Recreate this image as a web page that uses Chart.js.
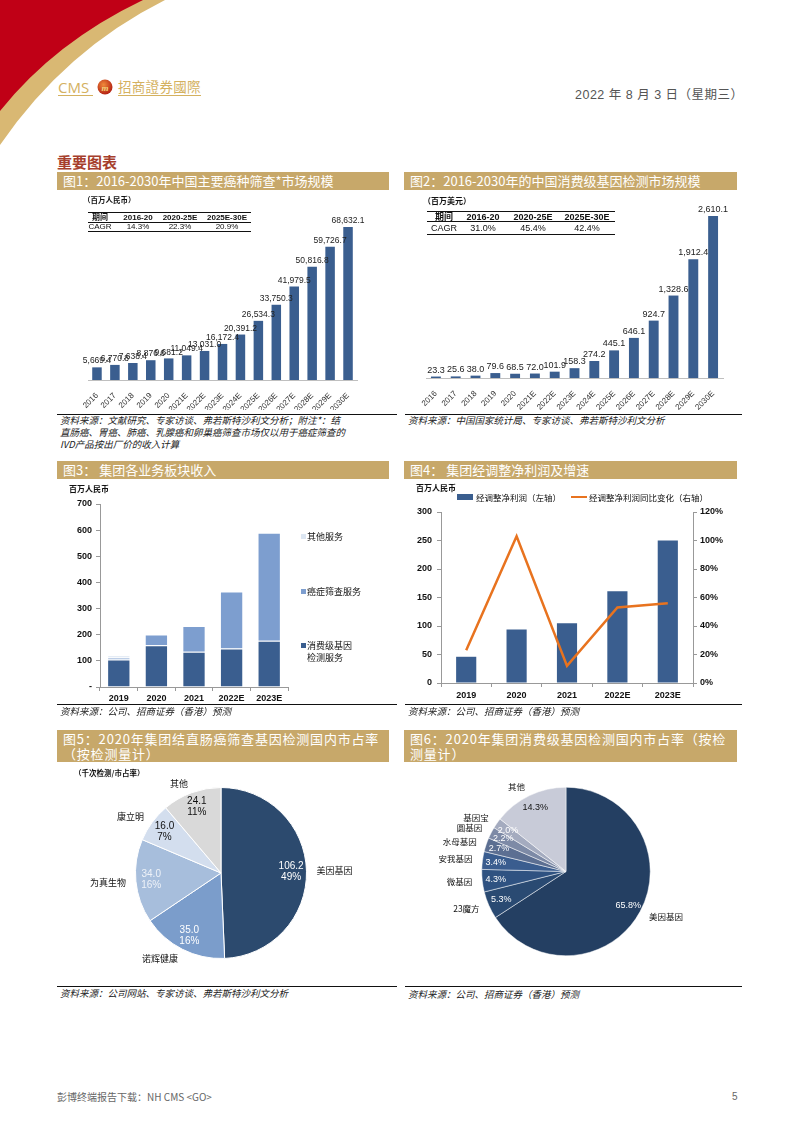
<!DOCTYPE html>
<html><head><meta charset="utf-8">
<script src="https://cdn.jsdelivr.net/npm/chart.js@4.4.0/dist/chart.umd.min.js"></script>
<style>
body{margin:0;background:#fff;}
#page{position:relative;width:794px;height:1122px;overflow:hidden;font-family:"Noto Sans CJK SC","Liberation Sans",Arial,sans-serif;color:#111;}
.abs{position:absolute;white-space:nowrap;line-height:1;}
.hdr{position:absolute;background:#c7a86a;color:#fff;font-size:13px;line-height:18px;padding-left:6px;box-sizing:border-box;white-space:nowrap;}
.rule{position:absolute;height:0;border-top:1px solid #111;}
.src{font-size:9.5px;font-style:italic;color:#222;}
canvas{position:absolute;}
</style></head>
<body><div id="page">
<svg width="794" height="170" style="position:absolute;left:0;top:0">
  <path d="M0,0 L165,0 Q65,50 0,145 Z" fill="#d9b873"/>
  <path d="M0,0 L143,0 Q55,42 0,111 Z" fill="#c00016"/>
  <defs><radialGradient id="g" cx="40%" cy="35%" r="70%"><stop offset="0" stop-color="#f08a3a"/><stop offset="1" stop-color="#b01a10"/></radialGradient></defs>
  <circle cx="105" cy="87" r="7.5" fill="url(#g)"/>
  <text x="105" y="90.5" font-size="9" font-style="italic" font-weight="bold" fill="#f3d27a" text-anchor="middle" font-family="Liberation Serif">m</text>
  <line x1="58" y1="95.5" x2="93" y2="95.5" stroke="#d4b15f" stroke-width="1"/>
  <line x1="118" y1="95.5" x2="201" y2="95.5" stroke="#d4b15f" stroke-width="1"/>
</svg>
<canvas id="c1" width="338" height="215" style="left:57px;top:195px"></canvas>
<canvas id="c2" width="335" height="215" style="left:405px;top:195px"></canvas>
<canvas id="c3" width="338" height="222" style="left:57px;top:483px"></canvas>
<canvas id="c4" width="335" height="205" style="left:405px;top:500px"></canvas>
<canvas id="c5" width="338" height="220" style="left:57px;top:765px"></canvas>
<canvas id="c6" width="335" height="220" style="left:405px;top:765px"></canvas>
</div>
<script>
// ---------- data ----------
const years = ['2016','2017','2018','2019','2020','2021E','2022E','2023E','2024E','2025E','2026E','2027E','2028E','2029E','2030E'];
const screeningMarket = [5669.4,6770.8,7638.4,8876.6,9681.2,11049.4,13031.0,16172.4,20391.2,26534.3,33750.3,41979.5,50816.8,59726.7,68632.1];
const consumerGeneMarket = [23.3,25.6,38.0,79.6,68.5,72.0,101.9,158.3,274.2,445.1,646.1,924.7,1328.6,1912.4,2610.1];
const cagrHeader = ['期间','2016-20','2020-25E','2025E-30E'];
const cagrScreening = ['CAGR','14.3%','22.3%','20.9%'];
const cagrConsumer = ['CAGR','31.0%','45.4%','42.4%'];

const revYears = ['2019','2020','2021','2022E','2023E'];
const revConsumer = [105,160,135,147,177];
const revCancer = [8,41,98,218,413];
const revOther = [8,0,0,0,0];
const revSeriesNames = ['消费级基因检测服务','癌症筛查服务','其他服务'];

const profitYears = ['2019','2020','2021','2022E','2023E'];
const adjProfit = [46,94,105,161,250];
const adjProfitYoY = [23,103,12,53,56];
const profitSeriesNames = ['经调整净利润（左轴）','经调整净利润同比变化（右轴）'];

const crcCompanies = ['美因基因','诺辉健康','为真生物','康立明','其他'];
const crcTests = [106.2,35.0,34.0,16.0,24.1];

const cgCompanies = ['美因基因','23魔方','微基因','安我基因','水母基因','圆基因','基因宝','其他'];
const cgShares = [65.8,5.3,4.3,3.4,2.7,2.2,2.0,14.3];

// ---------- page text ----------
const page = document.getElementById('page');
function T(txt, x, y, css, center){
  const d=document.createElement('div'); d.className='abs'; d.textContent=txt;
  d.style.left=x+'px'; d.style.top=y+'px';
  d.style.transform = center ? 'translate(-50%,-50%)' : 'translateY(-50%)';
  Object.assign(d.style, css||{}); page.appendChild(d); return d;
}
function H(html, x, y, w, h, css){
  const d=document.createElement('div'); d.className='hdr'; d.innerHTML=html;
  d.style.left=x+'px'; d.style.top=y+'px'; d.style.width=w+'px'; d.style.height=h+'px';
  Object.assign(d.style, css||{}); page.appendChild(d); return d;
}
function R(x, y, w, css){
  const d=document.createElement('div'); d.className='rule';
  d.style.left=x+'px'; d.style.top=y+'px'; d.style.width=w+'px';
  Object.assign(d.style, css||{}); page.appendChild(d); return d;
}

T('CMS', 58, 87, {fontFamily:'"Open Sans",Arial', fontSize:'15px', color:'#d4b15f'});
T('招商證券國際', 118, 87, {fontFamily:'"Noto Sans CJK TC"', fontSize:'13.5px', color:'#d4b15f', letterSpacing:'0.3px'});
T('2022 年 8 月 3 日（星期三）', 575, 95, {fontSize:'12.5px', color:'#555', letterSpacing:'0.5px', fontFamily:'"Liberation Sans","Noto Sans CJK SC"'});
T('重要图表', 57, 161, {fontSize:'15px', color:'#a63e2c', fontWeight:'bold'});

H('图1：2016-2030年中国主要癌种筛查*市场规模', 57, 172, 332, 18);
H('图2：2016-2030年的中国消费级基因检测市场规模', 404, 172, 333, 18);
H('图3：&nbsp;集团各业务板块收入', 57, 461, 332, 18);
H('图4：&nbsp;集团经调整净利润及增速', 404, 461, 333, 18);
H('图5：2020年集团结直肠癌筛查基因检测国内市占率<br>（按检测量计）', 57, 730, 332, 32, {lineHeight:'15px', paddingTop:'1px', letterSpacing:'0.8px'});
H('图6：2020年集团消费级基因检测国内市占率（按检<br>测量计）', 404, 730, 333, 32, {lineHeight:'15px', paddingTop:'1px', letterSpacing:'0.8px'});

// units
T('（百万人民币）', 83, 200, {fontSize:'7.5px', fontWeight:'bold'});
T('（百万美元）', 423, 201, {fontSize:'8px', fontWeight:'bold'});
T('百万人民币', 69, 489, {fontSize:'8px', fontWeight:'bold'});
T('百万人民币', 416, 488, {fontSize:'8px', fontWeight:'bold'});
T('（千次检测/市占率）', 74, 773, {fontSize:'7.5px', fontWeight:'bold'});

// CAGR tables
function cagrTable(x0, x1, ys, cols, rows, fs){
  R(x0, ys[0], x1-x0, {borderTop:'1.5px solid #111'});
  R(x0, ys[2], x1-x0, {borderTop:'0.8px solid #111'});
  R(x0, ys[4], x1-x0, {borderTop:'0.8px solid #111'});
  cols.forEach((cx,i)=>{
    T(rows[0][i], cx, ys[1], {fontSize:fs+'px', fontWeight:'bold', fontFamily:'"Liberation Sans","Noto Sans CJK SC"'}, true);
    T(rows[1][i], cx, ys[3], {fontSize:fs+'px', fontFamily:'"Liberation Sans"'}, true);
  });
}
cagrTable(88, 251, [212,217.5,222,227,231], [100,138,180,227], [cagrHeader,cagrScreening], 8);
cagrTable(427, 615, [211,216.5,221,227.5,234], [444,483,533,587], [cagrHeader,cagrConsumer], 9);

// sources
R(57, 414, 340); R(405, 414, 337);
R(57, 704, 340); R(405, 704, 337);
R(57, 986, 340); R(405, 986, 337);
const s1 = ['资料来源：文献研究、专家访谈、弗若斯特沙利文分析；附注*：结','直肠癌、胃癌、肺癌、乳腺癌和卵巢癌筛查市场仅以用于癌症筛查的','IVD产品按出厂价的收入计算'];
s1.forEach((t,i)=>T(t, 60, 421+i*12, {}).className='abs src');
T('资料来源：中国国家统计局、专家访谈、弗若斯特沙利文分析', 408, 421, {}).className='abs src';
T('资料来源：公司、招商证券（香港）预测', 60, 712, {}).className='abs src';
T('资料来源：公司、招商证券（香港）预测', 408, 712, {}).className='abs src';
T('资料来源：公司网站、专家访谈、弗若斯特沙利文分析', 60, 994, {}).className='abs src';
T('资料来源：公司、招商证券（香港）预测', 408, 995, {}).className='abs src';

// footer
T('彭博终端报告下载：NH CMS <GO>', 57, 1097, {fontSize:'10px', color:'#666'});
T('5', 732, 1097, {fontSize:'10px', color:'#666', fontFamily:'"Liberation Sans"'});

// ---------- colours ----------
const BLUE = '#3a5e8f';
const MIDBLUE = '#7d9ecf';
const LIGHTBLUE = '#dce6f2';
const ORANGE = '#e8731f';

// legends fig3
const legend3 = [[revSeriesNames[2], LIGHTBLUE, 536],[revSeriesNames[1], MIDBLUE, 591],[revSeriesNames[0], BLUE, 645]];
legend3.forEach(([name,col,y])=>{
  const sq=document.createElement('div'); sq.style.cssText=`position:absolute;left:301px;top:${y-2.5}px;width:5px;height:5px;background:${col}`; page.appendChild(sq);
  if(name.length>6){ T(name.slice(0,5), 307, y, {fontSize:'9px'}); T(name.slice(5), 307, y+12, {fontSize:'9px'}); }
  else T(name, 307, y, {fontSize:'9px'});
});
// legend fig4
(function(){
  const sw=document.createElement('div'); sw.style.cssText=`position:absolute;left:457px;top:494px;width:16px;height:6px;background:${BLUE}`; page.appendChild(sw);
  T(profitSeriesNames[0], 476, 497, {fontSize:'8.5px'});
  const ln=document.createElement('div'); ln.style.cssText=`position:absolute;left:571px;top:496px;width:16px;height:2px;background:${ORANGE}`; page.appendChild(ln);
  T(profitSeriesNames[1], 589, 497, {fontSize:'8.5px'});
})();

// ---------- plugins ----------
const fmt1 = v => v.toLocaleString('en-US',{minimumFractionDigits:1,maximumFractionDigits:1});
const barLabelPlugin = {
  id:'barLabels',
  afterDatasetsDraw(chart, args, o){
    const ctx=chart.ctx, meta=chart.getDatasetMeta(0), data=chart.data.datasets[0].data;
    ctx.save(); ctx.font=o.font; ctx.fillStyle=o.color; ctx.textAlign='center'; ctx.textBaseline='bottom';
    meta.data.forEach((b,i)=>ctx.fillText(fmt1(data[i]), b.x, b.y-o.gap));
    ctx.restore();
  }
};
const pieLabelPlugin = {
  id:'pieLabels',
  afterDatasetsDraw(chart, args, o){
    const ctx=chart.ctx, meta=chart.getDatasetMeta(0), data=chart.data.datasets[0].data, labels=chart.data.labels;
    const total=data.reduce((a,b)=>a+b,0);
    ctx.save(); ctx.textBaseline='middle';
    meta.data.forEach((arc,i)=>{
      const p=arc.getProps(['x','y','startAngle','endAngle','outerRadius'], true);
      const mid=(p.startAngle+p.endAngle)/2;
      const ri=p.outerRadius*o.inR;
      const ix=p.x+Math.cos(mid)*ri, iy=p.y+Math.sin(mid)*ri;
      const lines = o.mode==='valpct' ? [data[i].toFixed(1), Math.round(data[i]/total*100)+'%'] : [data[i].toFixed(1)+'%'];
      ctx.font=o.inFont; ctx.fillStyle=o.inColors[i]; ctx.textAlign='center';
      lines.forEach((l,k)=>ctx.fillText(l, ix, iy+(k-(lines.length-1)/2)*o.lh));
      const ro=p.outerRadius+o.gap;
      const c=Math.cos(mid);
      ctx.font=o.outFont; ctx.fillStyle='#111';
      ctx.textAlign = Math.abs(c)<0.12 ? 'center' : (c<0 ? 'right' : 'left');
      ctx.fillText(labels[i], p.x+c*ro, p.y+Math.sin(mid)*ro);
    });
    ctx.restore();
  }
};

const base = {responsive:false, animation:false, devicePixelRatio:1};
const noPlug = {legend:{display:false}, tooltip:{enabled:false}};

// ---------- fig1 ----------
new Chart(document.getElementById('c1'), {
  type:'bar',
  data:{labels:years, datasets:[{data:screeningMarket, backgroundColor:BLUE, barPercentage:0.53, categoryPercentage:1}]},
  options:{...base,
    layout:{padding:{left:31,right:38,top:17,bottom:0}},
    plugins:{...noPlug, barLabels:{font:'8.5px "Liberation Sans"', color:'#222', gap:2}},
    scales:{
      x:{grid:{display:false}, border:{display:true,color:'#bfbfbf'}, ticks:{minRotation:45,maxRotation:45,autoSkip:false,font:{size:8,family:'"Liberation Sans"'},color:'#333',padding:3}, afterFit:s=>{s.height=30;}},
      y:{display:false,min:0,max:75360}
    }
  },
  plugins:[barLabelPlugin]
});
// ---------- fig2 ----------
new Chart(document.getElementById('c2'), {
  type:'bar',
  data:{labels:years, datasets:[{data:consumerGeneMarket, backgroundColor:BLUE, barPercentage:0.5, categoryPercentage:1}]},
  options:{...base,
    layout:{padding:{left:21,right:17,top:15,bottom:0}},
    plugins:{...noPlug, barLabels:{font:'9px "Liberation Sans"', color:'#222', gap:2}},
    scales:{
      x:{grid:{display:false}, border:{display:true,color:'#bfbfbf'}, ticks:{minRotation:45,maxRotation:45,autoSkip:false,font:{size:8,family:'"Liberation Sans"'},color:'#333',padding:3}, afterFit:s=>{s.height=32;}},
      y:{display:false,min:0,max:2707}
    }
  },
  plugins:[barLabelPlugin]
});
// ---------- fig3 ----------
const tickFont = {size:9, family:'"Liberation Sans"', weight:'bold'};
new Chart(document.getElementById('c3'), {
  type:'bar',
  data:{labels:revYears, datasets:[
    {label:revSeriesNames[0], data:revConsumer, backgroundColor:BLUE},
    {label:revSeriesNames[1], data:revCancer, backgroundColor:MIDBLUE},
    {label:revSeriesNames[2], data:revOther, backgroundColor:LIGHTBLUE}
  ].map(d=>({...d, borderColor:'#fff', borderWidth:{top:1,bottom:0,left:1,right:1}, barPercentage:0.62, categoryPercentage:1}))},
  options:{...base,
    layout:{padding:{left:0,right:107,top:21,bottom:0}},
    plugins:{...noPlug},
    scales:{
      x:{stacked:true, grid:{display:true,drawOnChartArea:false,tickLength:4,color:'#999'}, border:{color:'#999'}, ticks:{font:tickFont,color:'#111',padding:2}, afterFit:s=>{s.height=18;}},
      y:{stacked:true, min:0, max:700, grid:{display:true,drawOnChartArea:false,tickLength:4,color:'#999'}, border:{color:'#999'},
         ticks:{stepSize:100, font:tickFont, color:'#111', padding:4, callback:v=>v===0?'-':v}, afterFit:s=>{s.width=43;}}
    }
  }
});
// ---------- fig4 ----------
new Chart(document.getElementById('c4'), {
  type:'bar',
  data:{labels:profitYears, datasets:[
    {type:'line', label:profitSeriesNames[1], data:adjProfitYoY, yAxisID:'y1', borderColor:ORANGE, borderWidth:2.5, pointRadius:0, tension:0, order:0},
    {type:'bar', label:profitSeriesNames[0], data:adjProfit, yAxisID:'y', backgroundColor:BLUE, barPercentage:0.4, categoryPercentage:1, order:1}
  ]},
  options:{...base,
    layout:{padding:{left:0,right:0,top:12,bottom:0}},
    plugins:{...noPlug},
    scales:{
      x:{grid:{display:true,drawOnChartArea:false,tickLength:4,color:'#999'}, border:{color:'#999'}, ticks:{font:tickFont,color:'#111',padding:3}, afterFit:s=>{s.height=22;}},
      y:{position:'left', min:0, max:300, grid:{display:true,drawOnChartArea:false,tickLength:4,color:'#999'}, border:{color:'#999'},
         ticks:{stepSize:50, font:tickFont, color:'#111', padding:5}, afterFit:s=>{s.width=36;}},
      y1:{position:'right', min:0, max:120, grid:{display:true,drawOnChartArea:false,tickLength:4,color:'#999'}, border:{color:'#999'},
         ticks:{stepSize:20, font:tickFont, color:'#111', padding:3, callback:v=>v+'%'}, afterFit:s=>{s.width=47;}}
    }
  }
});
// ---------- fig5 ----------
new Chart(document.getElementById('c5'), {
  type:'pie',
  data:{labels:crcCompanies, datasets:[{data:crcTests, backgroundColor:['#2c4a6e','#7b9dcb','#a7bedc','#d3deee','#d9d9d9'], borderColor:'#fff', borderWidth:1, hoverOffset:0}]},
  options:{...base,
    layout:{padding:{left:78,right:88,top:22,bottom:26}},
    plugins:{...noPlug, pieLabels:{mode:'valpct', inR:0.82, gap:10, lh:11, inFont:'10px "Liberation Sans"', outFont:'9px "Noto Sans CJK SC"', inColors:['#fff','#fff','#eef2f8','#111','#111']}}
  },
  plugins:[pieLabelPlugin]
});
// ---------- fig6 ----------
new Chart(document.getElementById('c6'), {
  type:'pie',
  data:{labels:cgCompanies, datasets:[{data:cgShares, backgroundColor:['#243f62','#2a4a72','#2f5281','#3a5d8f','#5c6f92','#7d8aa6','#a4abbf','#c8cbd8'], borderColor:'#fff', borderWidth:0.5, hoverOffset:0}]},
  options:{...base,
    layout:{padding:{left:76,right:89,top:22,bottom:29}},
    plugins:{...noPlug, pieLabels:{mode:'pct', inR:0.84, gap:10, lh:11, inFont:'9px "Liberation Sans"', outFont:'8.5px "Noto Sans CJK SC"', inColors:['#fff','#fff','#fff','#fff','#fff','#fff','#fff','#111']}}
  },
  plugins:[pieLabelPlugin]
});
</script>
</body></html>
